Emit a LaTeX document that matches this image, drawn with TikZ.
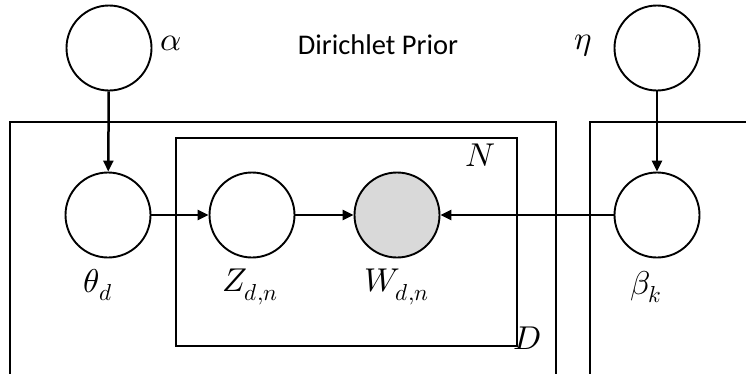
\documentclass[tikz,border=0pt]{standalone}
\usepackage{unicode-math}
\setmainfont{Carlito}
\setmathfont{Latin Modern Math}
\usetikzlibrary{arrows.meta}
\begin{document}
\begin{tikzpicture}[x=1pt,y=-1pt,
  var/.style={circle,draw=black,line width=1.9pt,minimum size=85pt,inner sep=0pt,fill=white},
  obs/.style={var,fill=black!15},
  lbl/.style={inner sep=0pt,font=\fontsize{28.5}{32}\selectfont},
  mlbl/.style={inner sep=0pt,font=\fontsize{33}{36}\selectfont},
  plate/.style={draw=black,line width=1.9pt},
  conn/.style={line width=2.5pt,-{Triangle[length=11pt,width=10pt]}}]
\useasboundingbox (0,0) rectangle (746,373);
\clip (0,0) rectangle (746,373);
% plates
\draw[plate] (10,385) -- (10,122) -- (556,122) -- (556,385);
\draw[plate] (590,385) -- (590,122) -- (760,122);
\draw[plate] (176,138) rectangle (517,346);
% nodes
\node[var] (alpha) at (109,48) {};
\node[var] (eta) at (657,48) {};
\node[var] (theta) at (108,215) {};
\node[var] (z) at (252,215) {};
\node[obs] (w) at (397,215) {};
\node[var] (beta) at (657,215) {};
% labels
\node[mlbl] (la) at (171,43) {$\alpha$};
\node[mlbl] (le) at (583,46) {$\eta$};
\node[lbl] (dp) at (378,45) {Dirichlet Prior};
\node[mlbl] (lt) at (98,285) {$\theta_d$};
\node[mlbl] (lz) at (250,287) {$Z_{d,n}$};
\node[mlbl] (lw) at (397,287) {$W_{d,n}$};
\node[mlbl] (lb) at (646,287) {$\beta_k$};
\node[mlbl] (ln) at (480,155) {$N$};
\node[mlbl] (ld) at (527,338) {$D$};
% connectors
\draw[conn] (alpha) -- (theta);
\draw[conn] (eta) -- (beta);
\draw[conn] (theta) -- (z);
\draw[conn] (z) -- (w);
\draw[conn] (beta) -- (w);
\end{tikzpicture}
\end{document}
